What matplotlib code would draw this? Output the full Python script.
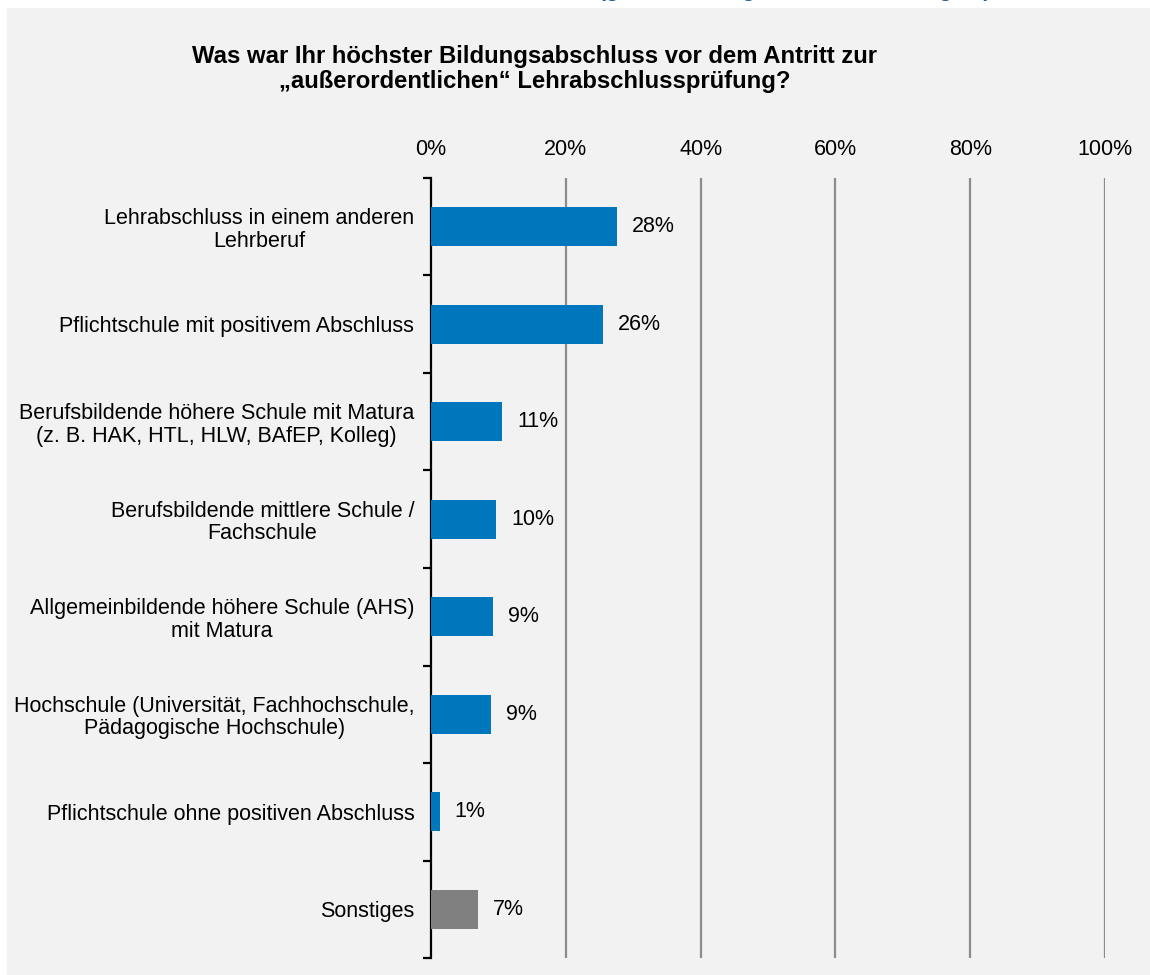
import matplotlib
matplotlib.use("Agg")
import matplotlib.pyplot as plt
from matplotlib.patches import Rectangle

categories = [
    "Lehrabschluss in einem anderen\nLehrberuf",
    "Pflichtschule mit positivem Abschluss",
    "Berufsbildende höhere Schule mit Matura\n(z. B. HAK, HTL, HLW, BAfEP, Kolleg)",
    "Berufsbildende mittlere Schule /\nFachschule",
    "Allgemeinbildende höhere Schule (AHS)\nmit Matura",
    "Hochschule (Universität, Fachhochschule,\nPädagogische Hochschule)",
    "Pflichtschule ohne positiven Abschluss",
    "Sonstiges",
]
values = [27.6, 25.5, 10.6, 9.7, 9.2, 8.9, 1.3, 7.0]
bar_colors = ["#0077BD"] * 7 + ["#808080"]
x_ticks = [0, 20, 40, 60, 80, 100]
x_ticklabels = ["0%", "20%", "40%", "60%", "80%", "100%"]
title = "Was war Ihr höchster Bildungsabschluss vor dem Antritt zur\n„außerordentlichen“ Lehrabschlussprüfung?"
header = "(gewichtete Ergebnisse, alle Befragten)"

plt.rcParams['font.family'] = ['Liberation Sans', 'DejaVu Sans']

W, H = 1150, 975
fig = plt.figure(figsize=(W / 100, H / 100), dpi=100)
fig.patch.set_facecolor("white")

# grey panel
fig.patches.append(Rectangle((7 / W, 0), 1 - 7 / W, 1 - 8 / H, transform=fig.transFigure,
                             facecolor="#F2F2F2", edgecolor="none", zorder=-10))

# header text at the very top, cut off by the upper edge as in the source image
fig.text(795 / W, 1 + 3 / H, header, ha="center", va="baseline", fontsize=15,
         fontweight="bold", color="#1F5C99")

fig.text(535 / W, 1 - 69 / H, title, ha="center", va="center", fontsize=17.2,
         fontweight="bold", color="black", linespacing=1.1)

ax = fig.add_axes([431 / W, 1 - 958 / H, (1105 - 431) / W, (958 - 178) / H])
ax.set_facecolor("none")

ypos = list(range(len(categories)))
ax.barh(ypos, values, height=0.4, color=bar_colors, zorder=3)
for y, v in zip(ypos, values):
    ax.annotate(f"{round(v)}%", (v, y), xytext=(15, 0), textcoords="offset pixels",
                ha="left", va="center", fontsize=15.5, color="black")

ax.set_xlim(0, 100)
ax.set_ylim(len(categories) - 0.5, -0.5)
for xv in x_ticks[1:]:
    ax.axvline(xv, color="#8C8C8C", lw=1.6, zorder=1)

ax.xaxis.tick_top()
ax.set_xticks(x_ticks)
ax.set_xticklabels(x_ticklabels, fontsize=15.5)
ax.tick_params(axis="x", length=0, pad=13)

ax.set_yticks(ypos)
ax.set_yticklabels(categories, fontsize=15.5, linespacing=1.1, multialignment="center")
ax.tick_params(axis="y", which="major", length=0, pad=12)
ax.set_yticks([i - 0.5 for i in range(len(categories) + 1)], minor=True)
ax.tick_params(axis="y", which="minor", length=6, width=1.6, color="black", direction="out")

for s in ["top", "right", "bottom"]:
    ax.spines[s].set_visible(False)
ax.spines["left"].set_linewidth(1.6)
ax.spines["left"].set_color("black")

fig.savefig("out.png", dpi=100, facecolor="white")
